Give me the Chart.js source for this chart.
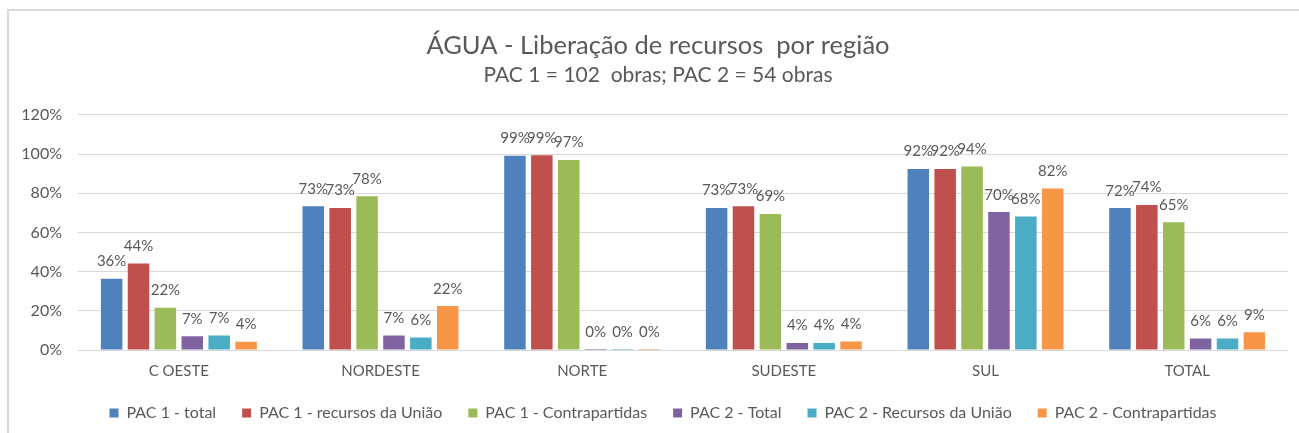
<!DOCTYPE html>
<html><head><meta charset="utf-8">
<script src="https://cdn.jsdelivr.net/npm/chart.js@4"></script>
<style>
html,body{margin:0;padding:0;background:#fff;}
#wrap{position:relative;width:1299px;height:433px;overflow:hidden;}
#frame{position:absolute;left:7px;top:9px;width:1300px;height:440px;border:2px solid #d9d9d9;box-sizing:border-box;pointer-events:none;}
canvas{position:absolute;left:0;top:0;}
</style></head><body>
<div id="wrap"><canvas id="c" width="1299" height="433"></canvas><div id="frame"></div></div>
<script>
const categories = ['C OESTE','NORDESTE','NORTE','SUDESTE','SUL','TOTAL'];
const seriesNames = ['PAC 1 - total','PAC 1 - recursos da União','PAC 1 - Contrapartidas','PAC 2 - Total','PAC 2 - Recursos da União','PAC 2 - Contrapartidas'];
const pac1Total    = [36.3, 73.4, 99.1, 72.5, 92.4, 72.4];
const pac1Uniao    = [44.1, 72.5, 99.4, 73.4, 92.4, 74.0];
const pac1Contra   = [21.6, 78.4, 97.0, 69.4, 93.6, 65.2];
const pac2Total    = [7.0, 7.4, 0.49, 3.6, 70.4, 5.9];
const pac2Uniao    = [7.4, 6.4, 0.49, 3.6, 68.1, 5.9];
const pac2Contra   = [4.2, 22.4, 0.49, 4.4, 82.4, 9.0];
const yTicks = [0,20,40,60,80,100,120];
const colors = ['#4f81bd','#c0504d','#9bbb59','#8064a2','#4bacc6','#f79646'];
const FONT = 'Lato';
const TXT = '#595959';

const allSeries = [pac1Total,pac1Uniao,pac1Contra,pac2Total,pac2Uniao,pac2Contra];

const valueLabels = {
  id:'valueLabels',
  afterDatasetsDraw(chart){
    const ctx = chart.ctx;
    ctx.save();
    ctx.font = '15px ' + FONT;
    ctx.fillStyle = TXT;
    ctx.textAlign = 'center';
    ctx.textBaseline = 'alphabetic';
    chart.data.datasets.forEach((ds,i)=>{
      chart.getDatasetMeta(i).data.forEach((bar,j)=>{
        ctx.fillText(Math.round(ds.data[j]) + '%', bar.x, bar.y - 12.5);
      });
    });
    ctx.restore();
  }
};

// nudge title block and legend to match the reference placement
const nudge = {
  id:'nudge',
  afterLayout(chart){
    chart.boxes.forEach(b=>{
      if (b === chart.legend) { b.left += 15; b.right += 15; b.top -= 14; b.bottom -= 14; }
      else if (b.options && typeof b.options.text === 'string') { b.left += 10; b.right += 10; }
    });
  }
};

new Chart(document.getElementById('c'), {
  type:'bar',
  data:{
    labels: categories,
    datasets: allSeries.map((d,i)=>({
      label: seriesNames[i],
      data: d,
      backgroundColor: colors[i],
      borderWidth: 0,
      categoryPercentage: 0.8,
      barPercentage: 0.8
    }))
  },
  options:{
    responsive:false,
    animation:false,
    devicePixelRatio:1,
    layout:{padding:{left:8,right:11,top:10,bottom:-12}},
    plugins:{
      title:{display:true,text:'ÁGUA - Liberação de recursos  por região',color:TXT,
        font:{family:FONT,size:25.5,weight:'normal'},padding:{top:20,bottom:2}},
      subtitle:{display:true,text:'PAC 1 = 102  obras; PAC 2 = 54 obras',color:TXT,
        font:{family:FONT,size:21,weight:'normal'},padding:{top:0,bottom:27}},
      legend:{position:'bottom',labels:{color:TXT,font:{family:FONT,size:16},boxWidth:9,boxHeight:9,padding:26}},
      tooltip:{enabled:false}
    },
    scales:{
      x:{
        grid:{display:false,drawTicks:false},
        border:{display:false},
        ticks:{color:TXT,font:{family:FONT,size:15,lineHeight:1},padding:14}
      },
      y:{
        min:0,max:120,
        afterFit(s){ s.width = 70; },
        afterBuildTicks(s){ s.ticks = yTicks.map(v=>({value:v})); },
        grid:{color:'#d9d9d9',lineWidth:1,drawTicks:false},
        border:{display:false},
        ticks:{color:TXT,font:{family:FONT,size:16},padding:16,callback:v=>v+'%'}
      }
    }
  },
  plugins:[valueLabels, nudge]
});
</script>
</body></html>
